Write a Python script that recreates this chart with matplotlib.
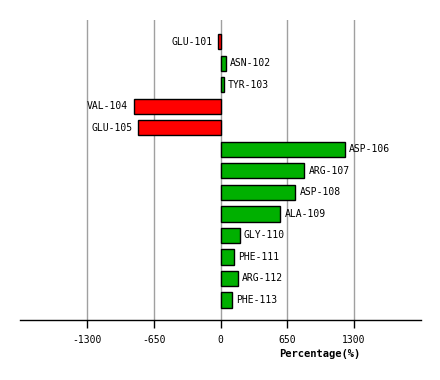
import matplotlib
matplotlib.use("Agg")
import matplotlib.pyplot as plt

residues = ["GLU-101", "ASN-102", "TYR-103", "VAL-104", "GLU-105", "ASP-106",
            "ARG-107", "ASP-108", "ALA-109", "GLY-110", "PHE-111", "ARG-112", "PHE-113"]
values = [-20, 55, 33, -845, -806, 1212, 816, 728, 582, 188, 130, 169, 110]
ticks = [-1300, -650, 0, 650, 1300]
tick_labels = ["-1300", "-650", "0", "650", "1300"]

W, H = 440, 380
fig = plt.figure(figsize=(W / 100, H / 100), dpi=100)
ax = fig.add_axes([20 / W, (H - 320) / H, 401 / W, 300 / H])

font = "DejaVu Sans Mono"
colors = ["#FF0000" if v < 0 else "#00B000" for v in values]
ypos = list(range(len(values)))
ax.barh(ypos, values, height=0.7, color=colors, edgecolor="black", linewidth=1.0, zorder=3)

for y, v, lab in zip(ypos, values, residues):
    if v < 0:
        ax.annotate(lab, (v, y), xytext=(-4, 0), textcoords="offset points",
                    ha="right", va="center", fontsize=7, family=font)
    else:
        ax.annotate(lab, (v, y), xytext=(3, 0), textcoords="offset points",
                    ha="left", va="center", fontsize=7, family=font)

ax.set_xlim(-1955, 1955)
ax.set_ylim(12.93, -1.02)
ax.set_xticks(ticks)
ax.set_xticklabels(tick_labels, family=font, fontsize=7)
ax.set_yticks([])
ax.grid(axis="x", color="#A0A0A0", linewidth=1.0, zorder=0)
for s in ["top", "left", "right"]:
    ax.spines[s].set_visible(False)
ax.spines["bottom"].set_linewidth(1.0)
ax.tick_params(axis="x", length=6, width=1, color="black", pad=5)
fig.text(320 / W, 1 - 354 / H, "Percentage(%)", ha="center", va="center",
         fontsize=7.5, fontweight="bold", family=font)

fig.savefig("out.png", dpi=100)
